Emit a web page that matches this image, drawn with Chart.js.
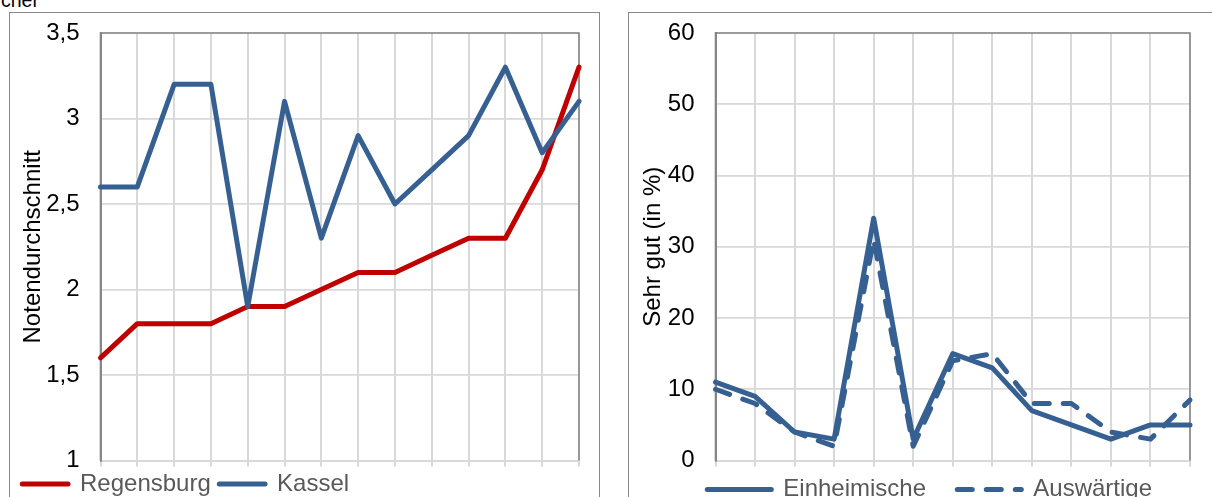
<!DOCTYPE html>
<html lang="de">
<head>
<meta charset="utf-8">
<script src="https://cdn.jsdelivr.net/npm/chart.js@4/dist/chart.umd.min.js"></script>
<style>
html, body { margin: 0; padding: 0; overflow: hidden; background: #fff; }
#blatt { position: absolute; left: 0; top: 0; width: 1212px; height: 497px; overflow: hidden; }
.rahmen { position: absolute; border: 1.4px solid #898989; }
#rahmenLinks { left: 9px; top: 11.5px; width: 589px; height: 520px; }
#rahmenRechts { left: 628px; top: 11.5px; width: 700px; height: 520px; }
canvas { position: absolute; top: 0; }
#links { left: 0; }
#rechts { left: 615px; }
#rest { position: absolute; left: 1px; top: -10.5px; font: 19.5px "Liberation Sans", Arial, sans-serif; line-height: 20px; color: #000; }
</style>
</head>
<body>
<div id="blatt">
  <div id="rest">cher</div>
  <div class="rahmen" id="rahmenLinks"></div>
  <div class="rahmen" id="rahmenRechts"></div>
  <canvas id="links" width="605" height="540"></canvas>
  <canvas id="rechts" width="597" height="540"></canvas>
</div>
<script>
// linkes Diagramm: Notendurchschnitt
const jahreLinks = ['1', '2', '3', '4', '5', '6', '7', '8', '9', '10', '11', '12', '13', '14'];
const regensburg = [1.6, 1.8, 1.8, 1.8, 1.9, 1.9, 2.0, 2.1, 2.1, 2.2, 2.3, 2.3, 2.7, 3.3];
const kassel = [2.6, 2.6, 3.2, 3.2, 1.9, 3.1, 2.3, 2.9, 2.5, 2.7, 2.9, 3.3, 2.8, 3.1];

// rechtes Diagramm: Sehr gut (in %)
const jahreRechts = ['1', '2', '3', '4', '5', '6', '7', '8', '9', '10', '11', '12', '13'];
const einheimische = [11, 9, 4, 3, 34, 3, 15, 13, 7, 5, 3, 5, 5];
const auswaertige = [10, 8, 4, 2, 31, 2, 14, 15, 8, 8, 4, 3, 8.5];

const rot = '#C00000';
const blau = '#376092';

Chart.defaults.font.family = '"Liberation Sans", Arial, sans-serif';
Chart.defaults.color = '#000';

// dunkler Rahmen oben/rechts/links um die Zeichenflaeche
const rahmen = {
    id: 'rahmen',
    beforeDatasetsDraw(chart) {
        const { ctx, chartArea: a } = chart;
        ctx.save();
        ctx.strokeStyle = '#868686';
        ctx.lineWidth = 1.6;
        ctx.beginPath();
        ctx.moveTo(a.left, a.bottom);
        ctx.lineTo(a.left, a.top);
        ctx.lineTo(a.right, a.top);
        ctx.lineTo(a.right, a.bottom);
        ctx.stroke();
        ctx.restore();
    }
};

// Legende an feste Stelle schieben
const legendePos = {
    id: 'legendePos',
    afterLayout(chart, args, opts) {
        const lg = chart.legend;
        const w = lg.right - lg.left;
        const h = lg.bottom - lg.top;
        lg.left = opts.x;
        lg.top = opts.y;
        lg.right = opts.x + w;
        lg.bottom = opts.y + h;
    }
};

function legendenEintraege(chart) {
    return chart.data.datasets.map((ds, i) => ({
        text: ds.label,
        fillStyle: ds.borderColor,
        strokeStyle: ds.borderColor,
        fontColor: '#595959',
        lineWidth: ds.borderWidth,
        lineDash: ds.borderDash || [],
        lineCap: 'round',
        pointStyle: 'line',
        hidden: false,
        datasetIndex: i
    }));
}

const komma = v => String(v).replace('.', ',');

new Chart(document.getElementById('links').getContext('2d'), {
    type: 'line',
    data: {
        labels: jahreLinks,
        datasets: [{
            label: 'Regensburg',
            data: regensburg,
            borderColor: rot,
            backgroundColor: rot,
            borderWidth: 5,
            pointRadius: 0,
            borderJoinStyle: 'round',
            borderCapStyle: 'round',
            clip: false,
            order: 1
        }, {
            label: 'Kassel',
            data: kassel,
            borderColor: blau,
            backgroundColor: blau,
            borderWidth: 5,
            pointRadius: 0,
            borderJoinStyle: 'round',
            borderCapStyle: 'round',
            clip: false,
            order: 0
        }]
    },
    options: {
        responsive: false,
        animation: false,
        layout: { padding: { left: 8, right: 26, top: 33, bottom: 0 } },
        scales: {
            x: {
                offset: false,
                ticks: { display: false, autoSkip: false },
                grid: { color: '#d9d9d9', lineWidth: 2, drawTicks: true, tickLength: 6, tickColor: '#d9d9d9' },
                border: { color: '#d9d9d9', width: 2 },
                afterFit: s => { s.height = 36.95; }
            },
            y: {
                min: 1,
                max: 3.5,
                ticks: { stepSize: 0.5, padding: 21, color: '#000', font: { size: 24 }, callback: komma },
                grid: { color: '#d9d9d9', lineWidth: 1.8, drawTicks: false },
                border: { color: '#868686', width: 2 },
                title: { display: true, text: 'Notendurchschnitt', color: '#000', font: { size: 24 }, padding: { top: 10.5, bottom: 0 } },
                afterFit: s => { s.width = 92.5; s.paddingTop = 0; s.paddingBottom = 0; }
            }
        },
        plugins: {
            legend: {
                position: 'bottom',
                align: 'start',
                labels: {
                    usePointStyle: true,
                    pointStyle: 'line',
                    pointStyleWidth: 45.75,
                    padding: 8.55,
                    color: '#595959',
                    font: { size: 24 },
                    generateLabels: legendenEintraege
                }
            },
            legendePos: { x: 13.7, y: 463.45 },
            tooltip: { enabled: false }
        }
    },
    plugins: [rahmen, legendePos]
});

new Chart(document.getElementById('rechts').getContext('2d'), {
    type: 'line',
    data: {
        labels: jahreRechts,
        datasets: [{
            label: 'Einheimische',
            data: einheimische,
            borderColor: blau,
            backgroundColor: blau,
            borderWidth: 5,
            pointRadius: 0,
            borderJoinStyle: 'round',
            borderCapStyle: 'round',
            clip: false,
            order: 1
        }, {
            label: 'Auswärtige',
            data: auswaertige,
            borderColor: blau,
            backgroundColor: blau,
            borderWidth: 5,
            borderDash: [15, 14],
            pointRadius: 0,
            borderJoinStyle: 'round',
            borderCapStyle: 'round',
            clip: false,
            order: 0
        }]
    },
    options: {
        responsive: false,
        animation: false,
        layout: { padding: { left: 10, right: 22, top: 33, bottom: 0 } },
        scales: {
            x: {
                offset: false,
                ticks: { display: false, autoSkip: false },
                grid: { color: '#d9d9d9', lineWidth: 2, drawTicks: true, tickLength: 6, tickColor: '#d9d9d9' },
                border: { color: '#d9d9d9', width: 2 },
                afterFit: s => { s.height = 14.25; }
            },
            y: {
                min: 0,
                max: 60,
                ticks: { stepSize: 10, padding: 21, color: '#000', font: { size: 24 } },
                grid: { color: '#d9d9d9', lineWidth: 1.8, drawTicks: false },
                border: { color: '#868686', width: 2 },
                title: { display: true, text: 'Sehr gut (in %)', color: '#000', font: { size: 24 }, padding: { top: 13.8, bottom: 0 } },
                afterFit: s => { s.width = 90.5; s.paddingTop = 0; s.paddingBottom = 0; }
            }
        },
        plugins: {
            legend: {
                position: 'bottom',
                align: 'start',
                labels: {
                    usePointStyle: true,
                    pointStyle: 'line',
                    pointStyleWidth: 64.05,
                    padding: 31.25,
                    color: '#595959',
                    font: { size: 24 },
                    generateLabels: legendenEintraege
                }
            },
            legendePos: { x: 61, y: 446.25 },
            tooltip: { enabled: false }
        }
    },
    plugins: [rahmen, legendePos]
});
</script>
</body>
</html>
